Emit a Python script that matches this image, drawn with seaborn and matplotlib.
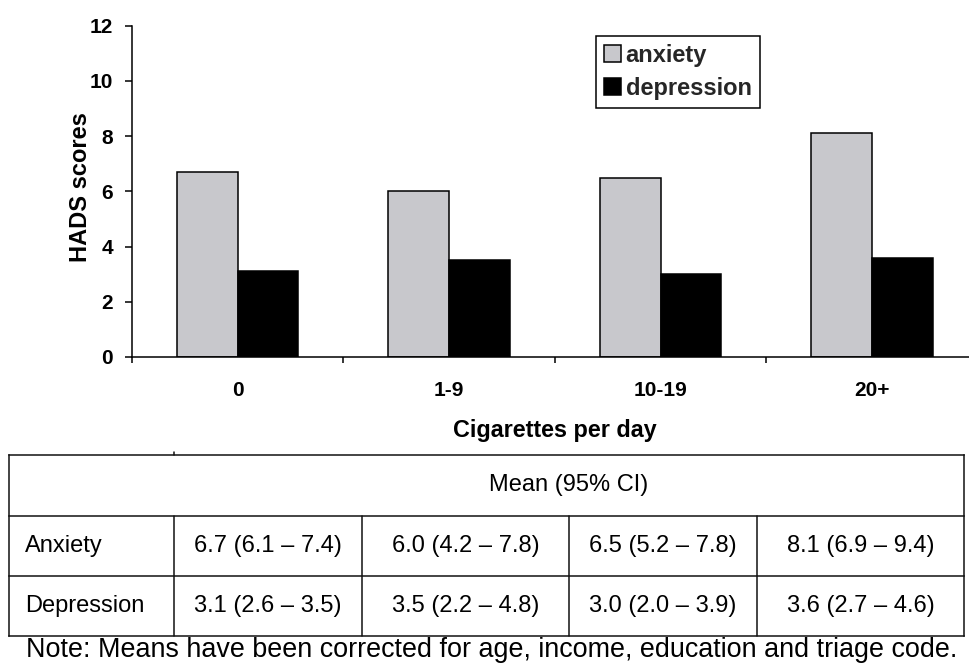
import matplotlib
matplotlib.use("Agg")
import matplotlib.pyplot as plt
import seaborn as sns
import pandas as pd

# ---- data ----
categories = ["0", "1-9", "10-19", "20+"]
anxiety_mean = [6.7, 6.0, 6.5, 8.1]
anxiety_lo = [6.1, 4.2, 5.2, 6.9]
anxiety_hi = [7.4, 7.8, 7.8, 9.4]
depression_mean = [3.1, 3.5, 3.0, 3.6]
depression_lo = [2.6, 2.2, 2.0, 2.7]
depression_hi = [3.5, 4.8, 3.9, 4.6]
series_names = ["anxiety", "depression"]
row_labels = ["Anxiety", "Depression"]
y_ticks = [0, 2, 4, 6, 8, 10, 12]
header_text = "Mean (95% CI)"
note_text = "Note: Means have been corrected for age, income, education and triage code."

sns.set_style("ticks")
plt.rcParams["font.family"] = ["Liberation Sans", "DejaVu Sans"]

df = pd.DataFrame({
    "cig": categories * 2,
    "score": anxiety_mean + depression_mean,
    "measure": [series_names[0]] * 4 + [series_names[1]] * 4,
})

W, H = 970, 664
fig = plt.figure(figsize=(W / 100, H / 100), dpi=100)
fig.patch.set_facecolor("white")

ax_left, ax_right = 132, 132 + 4 * 211.4
ax_top, ax_bottom = 25.7, 357
ax = fig.add_axes([ax_left / W, 1 - ax_bottom / H,
                   (ax_right - ax_left) / W, (ax_bottom - ax_top) / H])

sns.barplot(data=df, x="cig", y="score", hue="measure", order=categories,
            hue_order=series_names, palette=["#C8C8CC", "#000000"],
            edgecolor="black", linewidth=1.1, width=0.575, errorbar=None,
            ax=ax, saturation=1)

ax.set_xlim(-0.5, 3.5)
ax.set_ylim(0, 12)
ax.set_yticks(y_ticks)
ax.set_yticklabels([str(v) for v in y_ticks], fontsize=15, fontweight="bold")

# boundaries as major ticks, labels on minor ticks
ax.set_xticks([-0.5, 0.5, 1.5, 2.5, 3.5])
ax.set_xticklabels([])
ax.set_xticks(range(len(categories)), minor=True)
ax.set_xticklabels(categories, minor=True, fontsize=15, fontweight="bold")
ax.tick_params(axis="x", which="major", length=4.5, width=1.1, color="black", direction="out")
ax.tick_params(axis="x", which="minor", length=0, pad=17, labelcolor="black")
ax.tick_params(axis="y", which="major", length=5, width=1.1, color="black", pad=8.6,
               direction="out", labelcolor="black")

for s in ["top", "right"]:
    ax.spines[s].set_visible(False)
for s in ["left", "bottom"]:
    ax.spines[s].set_color("black")
    ax.spines[s].set_linewidth(1.1)

ax.set_xlabel("Cigarettes per day", fontsize=16.8, fontweight="bold", color="black")
ax.xaxis.set_label_coords(0.5, (ax_bottom - 430) / (ax_bottom - ax_top))
ax.xaxis.label.set_verticalalignment("center")
ax.set_ylabel("HADS scores", fontsize=17, fontweight="bold", color="black")
ax.yaxis.set_label_coords((81 - ax_left) / (ax_right - ax_left),
                          (ax_bottom - 187) / (ax_bottom - ax_top))
ax.yaxis.label.set_verticalalignment("center")

handles, labels = ax.get_legend_handles_labels()
leg = ax.legend(handles, labels, loc="upper left",
                bbox_to_anchor=(596 / W, 1 - 36 / H), bbox_transform=fig.transFigure,
                prop={"weight": "bold", "size": 17}, frameon=True, fancybox=False,
                framealpha=1, edgecolor="black", handlelength=0.7, handleheight=0.7,
                handletextpad=0.22, borderpad=0.34, labelspacing=0.42, borderaxespad=0)
leg.get_frame().set_linewidth(1.1)

# ---- table (figure pixel coordinates) ----
tax = fig.add_axes([0, 0, 1, 1])
tax.set_xlim(0, W)
tax.set_ylim(H, 0)
tax.axis("off")

lc = "#111111"
lw = 1.1
x_left, x_right = 9, 964
col_x = [174, 362, 569, 757]
y_top, y_head, y_r1, y_r2 = 455, 516, 576, 636
for y in [y_top, y_head, y_r1, y_r2]:
    tax.plot([x_left, x_right], [y, y], color=lc, lw=lw, solid_capstyle="projecting")
for x in [x_left, x_right]:
    tax.plot([x, x], [y_top, y_r2], color=lc, lw=lw, solid_capstyle="projecting")
for x in col_x:
    tax.plot([x, x], [y_head, y_r2], color=lc, lw=lw)
tax.plot([col_x[0], col_x[0]], [452, y_top], color=lc, lw=lw)

edges = col_x + [x_right]
centers = [(edges[i] + edges[i + 1]) / 2 for i in range(4)]
tax.text((col_x[0] + x_right) / 2, (y_top + y_head) / 2, header_text,
         fontsize=17, ha="center", va="center", color="black")

def fmt(m, lo, hi):
    return f"{m:.1f} ({lo:.1f} \u2013 {hi:.1f})"

rows = [
    [fmt(m, l, h) for m, l, h in zip(anxiety_mean, anxiety_lo, anxiety_hi)],
    [fmt(m, l, h) for m, l, h in zip(depression_mean, depression_lo, depression_hi)],
]
row_y = [(y_head + y_r1) / 2, (y_r1 + y_r2) / 2]
for lab, cells, yy in zip(row_labels, rows, row_y):
    tax.text(25, yy, lab, fontsize=17, ha="left", va="center", color="black")
    for cx, txt in zip(centers, cells):
        tax.text(cx, yy, txt, fontsize=17, ha="center", va="center", color="black")

tax.text(26, 650, note_text, fontsize=19.35, ha="left", va="center", color="black")

fig.savefig("out.png", dpi=100, facecolor="white")
